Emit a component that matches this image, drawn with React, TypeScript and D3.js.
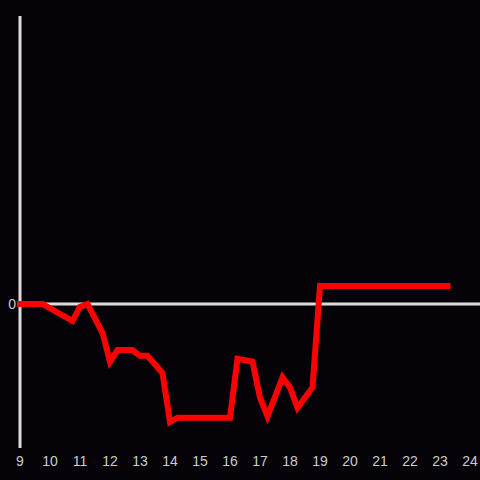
import React from "react";
import * as d3 from "d3";

const times = [9, 9.75, 10.75, 11, 11.25, 11.75, 12, 12.25, 12.75, 13, 13.25, 13.75, 14, 14.25, 16, 16.25, 16.75, 17, 17.25, 17.75, 18, 18.25, 18.75, 19, 23.25];
const values = [0, 0, -0.118, -0.02, 0, -0.2, -0.4, -0.32, -0.32, -0.36, -0.36, -0.48, -0.82, -0.79, -0.79, -0.38, -0.4, -0.65, -0.78, -0.51, -0.58, -0.72, -0.58, 0.125, 0.125];
const xTicks = [9, 10, 11, 12, 13, 14, 15, 16, 17, 18, 19, 20, 21, 22, 23, 24];
const yTicks = [0];

export default function App() {
  const W = 480, H = 480;
  const x = d3.scaleLinear().domain([9, 24]).range([20, 470]);
  const y = d3.scaleLinear().domain([-1, 2]).range([448, 16]);
  const data = times.map((t, i) => [t, values[i]] as [number, number]);
  const line = d3.line<[number, number]>().x(d => x(d[0])).y(d => y(d[1]));
  return (
    <svg width={W} height={H} style={{ position: "fixed", left: 0, top: 0, background: "#050308" }}>
      <rect x={0} y={0} width={W} height={H} fill="#050308" />
      <line x1={x(9)} x2={x(9)} y1={y(2)} y2={y(-1)} stroke="#dcdcdc" strokeWidth={3} />
      <line x1={x(9)} x2={W} y1={y(0)} y2={y(0)} stroke="#dcdcdc" strokeWidth={3} />
      {yTicks.map(t => (
        <text key={t} x={x(9) - 4} y={y(t)} dy="0.35em" textAnchor="end" fill="#cccccc" fontSize={14} fontFamily="Liberation Sans, Arial, sans-serif">{t}</text>
      ))}
      {xTicks.map(t => (
        <text key={t} x={x(t)} y={466} textAnchor="middle" fill="#cccccc" fontSize={14} fontFamily="Liberation Sans, Arial, sans-serif">{t}</text>
      ))}
      <path d={line(data) || ""} fill="none" stroke="#ff0000" strokeWidth={6} strokeLinecap="square" />
    </svg>
  );
}
